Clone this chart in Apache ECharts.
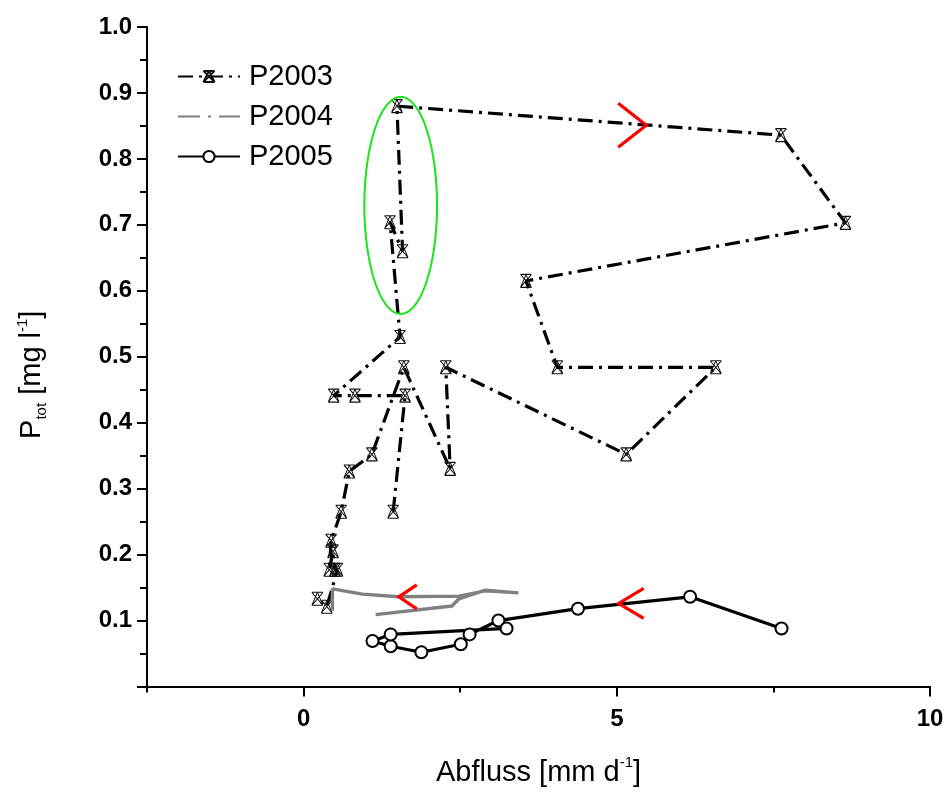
<!DOCTYPE html>
<html>
<head>
<meta charset="utf-8">
<script src="https://cdn.jsdelivr.net/npm/echarts@6/dist/echarts.min.js"></script>
<style>
  html, body { margin: 0; padding: 0; background: #ffffff; }
  #chart { width: 947px; height: 792px; }
</style>
</head>
<body>
<div id="chart"></div>
<script>
// Discharge (Abfluss) against total phosphorus, one loop per year

// P2003: Abfluss [mm/d] and Ptot [mg/l], in sampling order
const x2003 = [1.43, 1.62, 0.82, 0.48, 1.54, 1.38, 1.58, 1.49, 7.62, 8.65, 3.55, 4.05, 6.58, 5.15, 2.27, 2.34, 1.60, 1.09, 0.73, 0.60, 0.44, 0.41, 0.47, 0.50, 0.54, 0.37, 0.22];
const y2003 = [0.265, 0.441, 0.441, 0.441, 0.530, 0.704, 0.660, 0.880, 0.836, 0.703, 0.615, 0.484, 0.484, 0.352, 0.484, 0.330, 0.484, 0.352, 0.326, 0.265, 0.221, 0.177, 0.205, 0.177, 0.177, 0.121, 0.133];

// P2004
const x2004 = [1.15, 2.37, 2.48, 2.90, 3.43, 2.90, 2.48, 1.52, 0.94, 0.46, 0.46];
const y2004 = [0.109, 0.122, 0.133, 0.146, 0.142, 0.145, 0.137, 0.136, 0.140, 0.148, 0.115];

// P2005
const x2005 = [7.63, 6.17, 4.38, 3.11, 2.65, 2.51, 1.88, 1.39, 1.10, 1.39, 3.24];
const y2005 = [0.088, 0.136, 0.118, 0.100, 0.079, 0.064, 0.052, 0.061, 0.069, 0.079, 0.088];

const seriesNames = ['P2003', 'P2004', 'P2005'];

// Direction chevrons: tip position and pointing direction (+1 right, -1 left)
const arrowX = [5.47, 1.52, 5.03];
const arrowY = [0.851, 0.136, 0.126];
const arrowDir = [1, -1, -1];

// Highlighted period: bounding box of the ellipse in data units
const ellipseX = [0.97, 2.13];
const ellipseY = [0.565, 0.894];

// Axis ranges and tick positions
const xMin = -2.5, xMax = 10, xStep = 2.5;
const xMajorTicks = [0, 5, 10];
const xMinorTicks = [-2.5, 2.5, 7.5];
const yMin = 0, yMax = 1.0, yStep = 0.1;

const zip = (xs, ys) => xs.map((v, i) => [v, ys[i]]);

// chevron arm sizes in px (horizontal reach, vertical spread)
const arrowArms = [[28, 22], [18, 12], [25, 15]];

const FONT = "'Liberation Sans', Arial, sans-serif";

// P2003 marker: crossed box with a triangle, outline only
const crossTri = 'path://M0,0L12,0M0,0L12,14M12,0L0,14M0,14L12,14M6,0L0,14M6,0L12,14';

const chart = echarts.init(document.getElementById('chart'), null, { renderer: 'canvas' });

function renderEllipse(params, api) {
  const a = api.coord([api.value(0), api.value(1)]);
  const b = api.coord([api.value(2), api.value(3)]);
  const cx = (a[0] + b[0]) / 2, cy = (a[1] + b[1]) / 2;
  const rx = Math.abs(b[0] - a[0]) / 2, ry = Math.abs(b[1] - a[1]) / 2;
  const pts = [];
  for (let k = 0; k < 160; k++) {
    const t = k / 160 * Math.PI * 2;
    pts.push([cx + rx * Math.cos(t), cy + ry * Math.sin(t)]);
  }
  return {
    type: 'polygon',
    shape: { points: pts },
    style: { stroke: '#19e619', lineWidth: 2, fill: null }
  };
}

function renderArrow(params, api) {
  const i = params.dataIndex;
  const p = api.coord([api.value(0), api.value(1)]);
  const d = api.value(2);
  const arm = arrowArms[i];
  return {
    type: 'polyline',
    shape: { points: [[p[0] - d * arm[0], p[1] - arm[1]], [p[0], p[1]], [p[0] - d * arm[0], p[1] + arm[1]]] },
    style: { stroke: '#ff0000', lineWidth: 3.2, fill: null, lineCap: 'butt', lineJoin: 'miter' }
  };
}

const option = {
  backgroundColor: '#ffffff',
  animation: false,
  grid: { left: 147, right: 17, top: 27, bottom: 104, containLabel: false },
  legend: {
    orient: 'vertical',
    left: 172,
    top: 57,
    itemWidth: 62,
    itemHeight: 14,
    itemGap: 11,
    textStyle: { fontFamily: FONT, fontSize: 29, color: '#000', padding: [0, 0, 0, 4] },
    data: [
      { name: 'P2003' },
      { name: 'P2004', lineStyle: { type: [22, 8, 3, 8] }, itemStyle: { color: 'rgba(0,0,0,0)', borderWidth: 0, opacity: 0 } },
      { name: 'P2005' }
    ]
  },
  xAxis: [
    {
      type: 'value',
      min: xMin, max: xMax, interval: xStep,
      name: '{m|Abfluss [mm d}{sup|-1}{m|]}',
      nameLocation: 'middle',
      nameGap: 69,
      nameTextStyle: {
        rich: {
          m: { fontFamily: FONT, fontSize: 29, color: '#000', lineHeight: 34 },
          sup: { fontFamily: FONT, fontSize: 15, color: '#000', lineHeight: 20, verticalAlign: 'top' }
        }
      },
      axisLine: { show: true, onZero: false, lineStyle: { color: '#000', width: 2 } },
      axisTick: { show: true, inside: false, length: 10, customValues: xMajorTicks, lineStyle: { color: '#000', width: 2 } },
      axisLabel: {
        margin: 21,
        customValues: xMajorTicks,
        fontFamily: FONT, fontSize: 24, fontWeight: 'bold', color: '#000',
        formatter: v => String(v)
      },
      splitLine: { show: false }
    },
    {
      // shorter ticks between the labelled ones
      type: 'value',
      position: 'bottom',
      min: xMin, max: xMax, interval: xStep,
      axisLine: { show: false, onZero: false },
      axisTick: { show: true, inside: false, length: 6, customValues: xMinorTicks, lineStyle: { color: '#000', width: 2 } },
      axisLabel: { show: false },
      splitLine: { show: false }
    }
  ],
  yAxis: {
    type: 'value',
    min: yMin, max: yMax, interval: yStep,
    name: '{m|P}{sub|tot}{m| [mg l}{sup|-1}{m|]}',
    nameLocation: 'middle',
    nameGap: 98,
    nameTextStyle: {
      padding: [0, 36, 0, 0],
      rich: {
        m: { fontFamily: FONT, fontSize: 29, color: '#000', lineHeight: 34 },
        sub: { fontFamily: FONT, fontSize: 15, color: '#000', lineHeight: 20, verticalAlign: 'bottom' },
        sup: { fontFamily: FONT, fontSize: 15, color: '#000', lineHeight: 20, verticalAlign: 'top' }
      }
    },
    axisLine: { show: true, onZero: false, lineStyle: { color: '#000', width: 2 } },
    axisTick: { show: true, inside: false, length: 10, lineStyle: { color: '#000', width: 2 } },
    minorTick: { show: true, splitNumber: 2, length: 7, lineStyle: { color: '#000', width: 2 } },
    axisLabel: {
      margin: 15,
      fontFamily: FONT, fontSize: 24, fontWeight: 'bold', color: '#000',
      formatter: v => v === 0 ? '' : v.toFixed(1)
    },
    splitLine: { show: false },
    minorSplitLine: { show: false }
  },
  series: [
    {
      name: seriesNames[0],
      type: 'line',
      data: zip(x2003, y2003),
      symbol: crossTri,
      symbolSize: [11, 13],
      z: 3,
      lineStyle: { color: '#000', width: 3.2, type: [15, 6, 3, 6], cap: 'butt' },
      itemStyle: { color: 'none', borderColor: '#111', borderWidth: 1 }
    },
    {
      name: seriesNames[1],
      type: 'line',
      data: zip(x2004, y2004),
      symbol: 'none',
      showSymbol: false,
      z: 4,
      lineStyle: { color: '#808080', width: 3.4, type: 'solid' },
      itemStyle: { color: '#808080' }
    },
    {
      name: seriesNames[2],
      type: 'line',
      data: zip(x2005, y2005),
      symbol: 'circle',
      symbolSize: 12,
      z: 5,
      lineStyle: { color: '#000', width: 3.2, type: 'solid' },
      itemStyle: { color: '#ffffff', borderColor: '#000', borderWidth: 2 }
    },
    {
      name: 'ellipse',
      type: 'custom',
      renderItem: renderEllipse,
      data: [[ellipseX[0], ellipseY[0], ellipseX[1], ellipseY[1]]],
      encode: { x: [0, 2], y: [1, 3] },
      z: 6,
      silent: true
    },
    {
      name: 'arrows',
      type: 'custom',
      renderItem: renderArrow,
      data: arrowX.map((v, i) => [v, arrowY[i], arrowDir[i]]),
      encode: { x: 0, y: 1 },
      z: 7,
      silent: true
    }
  ]
};

chart.setOption(option);
</script>
</body>
</html>
